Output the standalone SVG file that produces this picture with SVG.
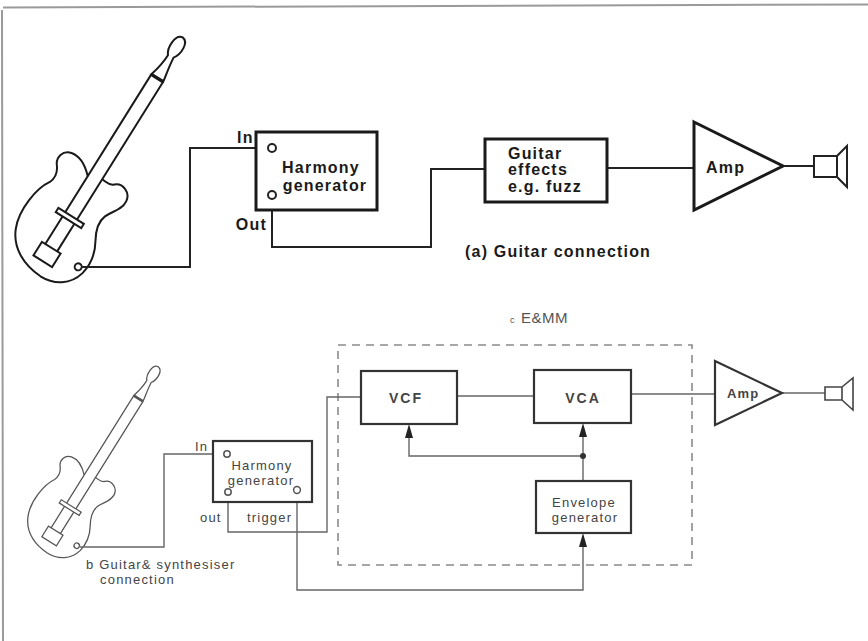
<svg xmlns="http://www.w3.org/2000/svg" xmlns:xlink="http://www.w3.org/1999/xlink" width="868" height="641" viewBox="0 0 868 641">
  <style>
    .frame { stroke: #9a9a9a; stroke-width: 2; fill: none; }
    .wire { fill: none; stroke: #222; stroke-width: 2; stroke-linejoin: miter; }
    .wire2 { fill: none; stroke: #666; stroke-width: 1.4; }
    .box { fill: #fff; stroke: #1a1a1a; stroke-width: 3; }
    .box2 { fill: #fff; stroke: #333; stroke-width: 2.2; }
    .jack { fill: #fff; stroke: #222; stroke-width: 2; }
    .jack2 { fill: #fff; stroke: #555; stroke-width: 1.5; }
    .dash { fill: none; stroke: #8a8a8a; stroke-width: 1.6; stroke-dasharray: 8 6; }
    .t1 { font-family: "Liberation Sans", Arial, sans-serif; font-weight: bold; font-size: 16px; fill: #1a1a1a; letter-spacing: 1.2px; }
    .t2 { font-family: "Liberation Sans", Arial, sans-serif; font-size: 13px; fill: #444; letter-spacing: 1.2px; }
    .t3 { font-family: "Liberation Sans", Arial, sans-serif; font-weight: bold; font-size: 14px; fill: #444; letter-spacing: 2px; }
    .arrow { fill: #222; }
  </style>
  <defs>
    <!-- electric guitar outline, drawn upright around the bridge bar and rotated into place -->
    <g id="guitar" fill="none">
      <path d="M -7,-45 C -14,-52 -24,-58 -33,-56 C -42,-54 -44,-44 -39,-38 C -35,-33 -33,-27 -36,-20 C -44,-8 -48,20 -40,38 C -32,56 -14,64 6,65 C 22,65 36,56 40,40 C 43,26 40,16 34,6 C 28,-4 26,-12 29,-20 C 32,-28 40,-34 39,-44 C 38,-54 26,-58 20,-52 C 16,-48 12,-50 7,-50"/>
      <path d="M -7,-165 L -7,-2.5 M 7,-165 L 7,-2.5 M -7,2.5 L -7,35 M 7,2.5 L 7,35"/>
      <path d="M -7,-165 C -5,-172 -3,-180 -3,-190 C -8,-196 -8,-212 0,-213 C 8,-212 8,-198 3,-191 C 4,-180 6,-172 7,-165 Z"/>
      <path d="M -7,-165 L 7,-165" stroke-width="3.5"/>
      <rect x="-15" y="-2.5" width="30" height="5"/>
      <rect x="-11" y="35" width="22" height="16"/>
      <circle cx="33" cy="37" r="3.5" fill="#fff"/>
    </g>
    <!-- upward control-input arrowhead, tip at the origin -->
    <path id="up" d="M 0,0 L 4,14 L -4,14 Z" fill="#222"/>
  </defs>

  <!-- page frame -->
  <path class="frame" d="M 3,7.5 L 868,4.5 M 2,10 L 3,641"/>

  <!-- (a) guitar connection -->
  <g id="guitar-a">
    <use xlink:href="#guitar" transform="translate(69.8,218) rotate(32)" stroke="#1a1a1a" stroke-width="2"/>
  </g>

  <g id="connectors-a">
    <path class="wire" d="M 81,267 L 190,267 L 190,148 L 268,148"/>
    <path class="wire" d="M 272,199 L 272,247 L 431,247 L 431,169 L 485,169"/>
    <path class="wire" d="M 607,168 L 694,168"/>
    <path class="wire" d="M 783,166 L 814,166"/>
  </g>

  <g id="harmony-a">
    <rect class="box" x="256" y="132" width="121" height="78"/>
    <circle class="jack" cx="272" cy="148" r="4"/>
    <circle class="jack" cx="272" cy="195" r="4"/>
    <text class="t1" x="237" y="143">In</text>
    <text class="t1" x="267" y="230" text-anchor="end">Out</text>
    <text class="t1" x="321" y="173" text-anchor="middle">Harmony</text>
    <text class="t1" x="325" y="191" text-anchor="middle">generator</text>
  </g>

  <g id="effects-a">
    <rect class="box" x="485" y="139" width="122" height="63"/>
    <text class="t1" x="508" y="159">Guitar</text>
    <text class="t1" x="508" y="175">effects</text>
    <text class="t1" x="508" y="192">e.g. fuzz</text>
  </g>

  <g id="amp-a">
    <path class="box" d="M 694,122 L 783,166 L 694,210 Z" stroke-linejoin="miter"/>
    <text class="t1" x="706" y="173">Amp</text>
  </g>

  <g id="speaker-a">
    <path class="wire" d="M 814,156 L 837,156 L 837,177 L 814,177 Z M 837,156 L 847,146 L 847,187 L 837,177"/>
  </g>

  <text class="t1" x="465" y="257">(a) Guitar connection</text>

  <!-- (b) guitar and synthesiser connection -->
  <text x="510" y="323" font-family="Liberation Sans, Arial, sans-serif" font-size="9" fill="#555">c</text>
  <text x="521" y="323" font-family="Liberation Sans, Arial, sans-serif" font-size="15" fill="#555" letter-spacing="0.5">E&amp;MM</text>

  <rect class="dash" x="338" y="345" width="354" height="220"/>

  <g id="guitar-b">
    <use xlink:href="#guitar" transform="translate(70.2,507.6) scale(0.78) rotate(32)" stroke="#555" stroke-width="1.6"/>
  </g>

  <g id="connectors-b">
    <path class="wire2" d="M 80,547 L 164,547 L 164,454 L 224,454"/>
    <path class="wire2" d="M 228,495 L 228,532 L 327,532 L 327,397 L 361,397"/>
    <path class="wire2" d="M 297,494 L 297,590 L 583,590 L 583,546"/>
    <path class="wire2" d="M 457,396 L 534,396"/>
    <path class="wire2" d="M 631,394 L 715,394"/>
    <path class="wire2" d="M 583,481 L 583,456 L 409,456 L 409,437"/>
    <path class="wire2" d="M 583,456 L 583,436"/>
    <circle cx="583" cy="456" r="3" fill="#333"/>
    <use xlink:href="#up" x="409" y="424"/>
    <use xlink:href="#up" x="583" y="423"/>
    <use xlink:href="#up" x="583" y="533"/>
    <path class="wire2" d="M 782,393 L 825,393"/>
  </g>

  <g id="harmony-b">
    <rect class="box2" x="213" y="441" width="99" height="61"/>
    <circle class="jack2" cx="227" cy="454" r="3.2"/>
    <circle class="jack2" cx="228" cy="492" r="3.2"/>
    <circle class="jack2" cx="297" cy="490" r="3.4" stroke="#222" stroke-width="2"/>
    <text class="t2" x="195" y="451">In</text>
    <text class="t2" x="262" y="470" text-anchor="middle">Harmony</text>
    <text class="t2" x="261" y="485" text-anchor="middle">generator</text>
    <text class="t2" x="200" y="522" letter-spacing="1.8">out</text>
    <text class="t2" x="247" y="522">trigger</text>
  </g>

  <g id="vcf">
    <rect class="box2" x="361" y="371" width="96" height="53"/>
    <text class="t3" x="406" y="403" text-anchor="middle">VCF</text>
  </g>

  <g id="vca">
    <rect class="box2" x="534" y="370" width="97" height="53"/>
    <text class="t3" x="583" y="403" text-anchor="middle">VCA</text>
  </g>

  <g id="envelope">
    <rect class="box2" x="536" y="481" width="95" height="52"/>
    <text class="t2" x="584" y="507" text-anchor="middle">Envelope</text>
    <text class="t2" x="585" y="522" text-anchor="middle" letter-spacing="1.4">generator</text>
  </g>

  <g id="amp-b">
    <path class="box2" d="M 715,361 L 782,393 L 715,425 Z"/>
    <text class="t2" x="727" y="398" font-weight="bold" letter-spacing="0.8" fill="#333">Amp</text>
  </g>

  <g id="speaker-b">
    <path fill="none" stroke="#444" stroke-width="1.6" d="M 825,387 L 842,387 L 842,400 L 825,400 Z M 842,387 L 853,378 L 853,410 L 842,400"/>
  </g>

  <text class="t2" x="86" y="569" font-size="12" letter-spacing="1.7" fill="#555">b Guitar&amp; synthesiser</text>
  <text class="t2" x="100" y="584" font-size="12" letter-spacing="2.1" fill="#555">connection</text>
</svg>
